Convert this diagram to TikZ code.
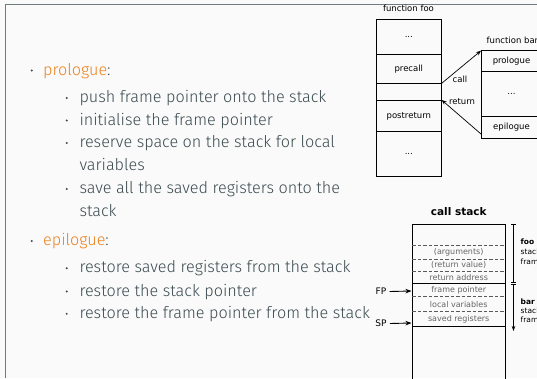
\documentclass[tikz,border=0pt]{standalone}
\usepackage{fontspec}
\setmainfont{Fira Sans}[UprightFont = * Light]
\newfontfamily\djv{DejaVu Sans}
\usetikzlibrary{arrows.meta}

\definecolor{slidebg}{HTML}{FAFAFA}
\definecolor{frameline}{HTML}{6E7C80}
\definecolor{bodytext}{HTML}{3A4A4E}
\definecolor{accent}{HTML}{EB811B}
\definecolor{celltext}{HTML}{666666}

\tikzset{
  item/.style={anchor=base west, inner sep=0pt, text=bodytext, font=\fontsize{16.2}{18}\selectfont},
  dot/.style={fill=bodytext},
  lbl/.style={inner sep=0pt, font=\djv\fontsize{8.5}{10}\selectfont},
  cell/.style={inner sep=0pt, text=celltext, font=\djv\fontsize{8}{9}\selectfont},
  side/.style={inner sep=0pt, anchor=base west, font=\djv\fontsize{7.5}{9}\selectfont},
  box/.style={draw=black, line width=0.8pt},
  sep/.style={draw=black, line width=0.7pt},
  dsep/.style={draw=black!65, line width=0.6pt, dash pattern=on 3.5pt off 2pt},
  ptr/.style={-{Stealth[length=6pt,width=4.5pt]}, line width=0.9pt},
  flow/.style={-{Stealth[length=5pt,width=4pt]}, line width=0.7pt},
}

\begin{document}
\begin{tikzpicture}[x=1pt,y=-1pt]
\useasboundingbox (0,0) rectangle (537,378);
\clip (0,0) rectangle (537,378);
\fill[slidebg] (0,0) rectangle (537,378);

% slide frame edges
\draw[frameline, line width=1.4pt] (5.7,378) -- (5.7,4.7) -- (537,4.7);

% ---------- bullet list ----------
\fill[dot] (31.7,70.5) circle (1.1pt);
\node[item] (pro) at (43,75) {\textcolor{accent}{prologue}:};
\fill[dot] (66.7,98) circle (1.1pt);
\node[item] (p1) at (79.3,102.5) {push frame pointer onto the stack};
\fill[dot] (66.7,120.5) circle (1.1pt);
\node[item] (p2) at (79.3,125) {initialise the frame pointer};
\fill[dot] (66.7,143) circle (1.1pt);
\node[item] (p3) at (79.3,147.5) {reserve space on the stack for local};
\node[item] (p3b) at (79.3,170.5) {variables};
\fill[dot] (66.7,189) circle (1.1pt);
\node[item] (p4) at (79.3,193.5) {save all the saved registers onto the};
\node[item] (p4b) at (79.3,216.5) {stack};

\fill[dot] (31.7,241) circle (1.1pt);
\node[item] (epi) at (43,245.5) {\textcolor{accent}{epilogue}:};
\fill[dot] (66.7,268.2) circle (1.1pt);
\node[item] (e1) at (79.3,272.7) {restore saved registers from the stack};
\fill[dot] (66.7,291.5) circle (1.1pt);
\node[item] (e2) at (79.3,296) {restore the stack pointer};
\fill[dot] (66.7,313.8) circle (1.1pt);
\node[item] (e3) at (79.3,318.3) {restore the frame pointer from the stack};

% ---------- function foo / function bar ----------
\node[lbl] (foot) at (408.5,8.5) {function foo};
\draw[box] (376,19) rectangle (441.7,176);
\draw[sep] (376,54.3) -- (441.7,54.3);
\draw[sep] (376,83.3) -- (441.7,83.3);
\draw[sep] (376,100) -- (441.7,100);
\draw[sep] (376,131.7) -- (441.7,131.7);
\node[lbl] (f1) at (408.8,36.5) {...};
\node[lbl] (f2) at (408.8,69.5) {precall};
\node[lbl] (f4) at (408.8,116.5) {postreturn};
\node[lbl] (f5) at (408.8,153.5) {...};
\coordinate (fcall) at (441.7,83.3);
\coordinate (fret) at (441.7,100);

\node[lbl, anchor=west] (bart) at (486.5,40) {function bar};
\draw[box] (481,50.7) rectangle (560,138.3);
\draw[sep] (481,71.7) -- (560,71.7);
\draw[sep] (481,116.7) -- (560,116.7);
\node[lbl] (b1) at (511.5,61.5) {prologue};
\node[lbl] (b2) at (511.5,93.5) {...};
\node[lbl] (b3) at (511.5,127.5) {epilogue};
\coordinate (bcall) at (481,50.7);
\coordinate (bret) at (481,134);

\draw[flow] (fcall) -- (bcall);
\draw[flow] (bret) -- (fret);
\node[lbl] (callt) at (460,79) {call};
\node[lbl] (rett) at (462,101.5) {return};

% ---------- call stack ----------
\node[inner sep=0pt, font=\djv\bfseries\fontsize{10.5}{12}\selectfont] (cst) at (458.7,212) {call stack};
\draw[box] (412.3,390) -- (412.3,224.3) -- (505,224.3) -- (505,390);
\draw[dsep] (412.3,245.7) -- (505,245.7);
\draw[dsep] (412.3,259) -- (505,259);
\draw[dsep] (412.3,271.7) -- (505,271.7);
\draw[draw=black, line width=1.3pt] (412.3,283.3) -- (505,283.3);
\draw[dsep] (412.3,296.7) -- (505,296.7);
\draw[dsep] (412.3,311.7) -- (505,311.7);
\draw[sep] (412.3,326) -- (505,326);
\node[cell] (c1) at (458.7,252.4) {(arguments)};
\node[cell] (c2) at (458.7,265.4) {(return value)};
\node[cell] (c3) at (458.7,277.5) {return address};
\node[cell] (c4) at (458.7,290) {frame pointer};
\node[cell] (c5) at (458.7,304.2) {local variables};
\node[cell] (c6) at (458.7,318.8) {saved registers};

\node[inner sep=0pt, font=\djv\fontsize{9}{10}\selectfont] (fp) at (381,291.5) {FP};
\node[inner sep=0pt, font=\djv\fontsize{9}{10}\selectfont] (sp) at (381,323.5) {SP};
\coordinate (fpin) at (411.5,291);
\coordinate (spin) at (411.5,323);
\draw[ptr] (fp.east) ++(3,0) coordinate (fps) -- (fpin);
\draw[ptr] (sp.east) ++(3,0) coordinate (sps) -- (spin);

% frame extents
\coordinate (ft) at (513.5,224.3);
\coordinate (fb) at (513.5,282);
\coordinate (bt) at (513.5,284.3);
\coordinate (bb) at (513.5,331);
\draw[line width=0.7pt] (ft) -- (fb);
\draw[line width=0.7pt] ([xshift=-2.2pt]ft) -- ([xshift=2.2pt]ft);
\draw[line width=0.7pt] ([xshift=-2.2pt]fb) -- ([xshift=2.2pt]fb);
\draw[line width=0.7pt] ([xshift=-2.2pt]bt) -- ([xshift=2.2pt]bt);
\draw[-{Stealth[length=5pt,width=3.5pt]}, line width=0.7pt] (bt) -- (bb);
\node[side] (foo1) at (520.5,244.5) {\bfseries foo};
\node[side] (foo2) at (520.5,254.5) {stack};
\node[side] (foo3) at (520.5,264.5) {frame};
\node[side] (bar1) at (520.5,304.5) {\bfseries bar};
\node[side] (bar2) at (520.5,313.5) {stack};
\node[side] (bar3) at (520.5,322.5) {frame};
\end{tikzpicture}
\end{document}
